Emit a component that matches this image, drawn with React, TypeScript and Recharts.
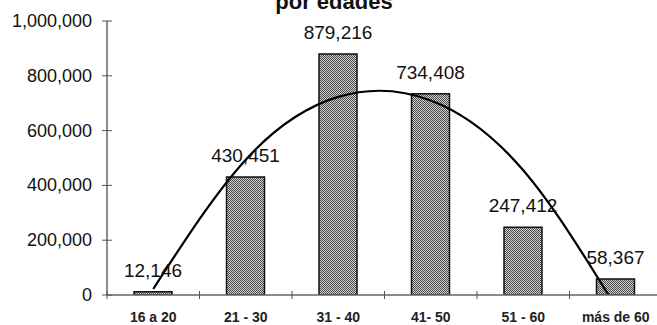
import {
  Bar,
  ComposedChart,
  LabelList,
  Line,
  XAxis,
  YAxis,
} from "recharts";

const categories = ["16 a 20", "21 - 30", "31 - 40", "41- 50", "51 - 60", "más de 60"];
const personas = [12146, 430451, 879216, 734408, 247412, 58367];
const tendencia = [22000, 494000, 723000, 710000, 455000, -43000];
const yTicks = [0, 200000, 400000, 600000, 800000, 1000000];

const WIDTH = 657;
const HEIGHT = 325;
const Y_AXIS_W = 107;
const RIGHT = -5;
const BAND = (WIDTH - Y_AXIS_W - RIGHT) / categories.length;
const FONT = "'Liberation Sans', Arial, Helvetica, sans-serif";

const data = categories.map((name, i) => ({
  name,
  personas: personas[i],
  tendencia: tendencia[i],
}));

const fmt = (v: number) => v.toLocaleString("en-US");

function YTick({ x, y, payload }: any) {
  const axisX = x + 15;
  return (
    <g>
      <line x1={axisX - 5} x2={axisX + 5} y1={y} y2={y} stroke="#555" strokeWidth={1} />
      <text
        x={x}
        y={y}
        textAnchor="end"
        dominantBaseline="central"
        fontSize={18}
        fontFamily={FONT}
        fill="#111"
      >
        {fmt(payload.value)}
      </text>
    </g>
  );
}

function XTick({ x, y, payload, index }: any) {
  const left = x - BAND / 2;
  return (
    <g>
      <line x1={left} x2={left} y1={y - 4} y2={y + 4} stroke="#555" strokeWidth={1} />
      {index === categories.length - 1 && (
        <line x1={x + BAND / 2} x2={x + BAND / 2} y1={y - 4} y2={y + 4} stroke="#555" />
      )}
      <text
        x={x}
        y={y + 27}
        textAnchor="middle"
        fontSize={14}
        fontWeight="bold"
        fontFamily={FONT}
        fill="#222"
      >
        {payload.value}
      </text>
    </g>
  );
}

export default function App() {
  return (
    <div style={{ position: "absolute", left: 0, top: 0, background: "#fff" }}>
      <ComposedChart
        width={WIDTH}
        height={HEIGHT}
        data={data}
        margin={{ top: 21, right: RIGHT, bottom: 0, left: 0 }}
      >
        <defs>
          <pattern id="trama" width="2" height="2" patternUnits="userSpaceOnUse">
            <rect width="2" height="2" fill="#d0d0d0" />
            <rect width="1" height="1" fill="#4a4a4a" />
            <rect x="1" y="1" width="1" height="1" fill="#4a4a4a" />
          </pattern>
        </defs>
        <text
          x={334}
          y={9}
          textAnchor="middle"
          fontSize={22}
          fontWeight="bold"
          fontFamily={FONT}
          fill="#111"
        >
          por edades
        </text>
        <XAxis
          dataKey="name"
          height={30}
          tickSize={0}
          tickMargin={0}
          tickLine={false}
          axisLine={{ stroke: "#666", strokeWidth: 1.5 }}
          tick={<XTick />}
          interval={0}
        />
        <YAxis
          width={Y_AXIS_W}
          domain={[0, 1000000]}
          ticks={yTicks}
          allowDataOverflow
          tickSize={0}
          tickMargin={15}
          tickLine={false}
          axisLine={{ stroke: "#666", strokeWidth: 1.5 }}
          tick={<YTick />}
        />
        <Bar
          dataKey="personas"
          barSize={38}
          fill="url(#trama)"
          stroke="#111"
          strokeWidth={1.5}
          isAnimationActive={false}
        >
          <LabelList
            dataKey="personas"
            position="top"
            offset={15}
            formatter={(v: any) => fmt(Number(v))}
            style={{ fontSize: 19, fontFamily: FONT, fill: "#111" }}
          />
        </Bar>
        <Line
          dataKey="tendencia"
          type="natural"
          stroke="#000"
          strokeWidth={2.2}
          dot={false}
          activeDot={false}
          isAnimationActive={false}
        />
      </ComposedChart>
    </div>
  );
}
